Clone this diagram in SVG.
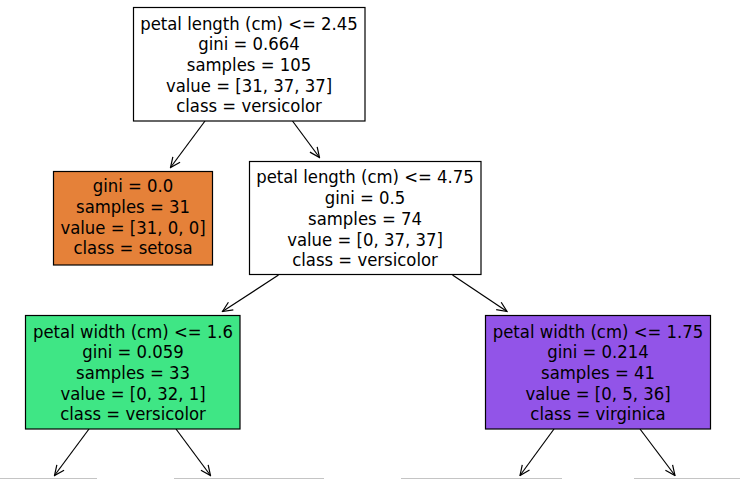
<svg xmlns="http://www.w3.org/2000/svg" width="740" height="479" viewBox="0 0 740 479">
<style>
  .box { stroke: #000; stroke-width: 1.2; }
  .t { font-family: "DejaVu Sans", sans-serif; font-size: 16.5px; fill: #000; text-anchor: middle; }
  .edge { stroke: #000; stroke-width: 1.2; fill: none; marker-end: url(#arr); }
  .cut { stroke: #c4c4c4; stroke-width: 1.2; }
</style>
<defs>
  <marker id="arr" markerUnits="userSpaceOnUse" viewBox="-11 -6 12 12" refX="0" refY="0" markerWidth="12" markerHeight="12" orient="auto">
    <path d="M-10,-4.5 L0,0 L-10,4.5" fill="none" stroke="#000" stroke-width="1.2"/>
  </marker>
</defs>
<rect width="740" height="479" fill="#fff"/>
<g id="connectors">
  <line class="edge" x1="205" y1="121" x2="170.5" y2="167.5"/>
  <line class="edge" x1="292.5" y1="121" x2="319.5" y2="157.5"/>
  <line class="edge" x1="278.5" y1="275" x2="222.5" y2="311.5"/>
  <line class="edge" x1="452.5" y1="275" x2="507" y2="311.5"/>
  <line class="edge" x1="89" y1="429" x2="54.5" y2="475.5"/>
  <line class="edge" x1="176" y1="429" x2="210.5" y2="475.5"/>
  <line class="edge" x1="554" y1="429" x2="520" y2="475.5"/>
  <line class="edge" x1="640" y1="429" x2="675" y2="475.5"/>
  <line class="cut" x1="0" y1="478.5" x2="97" y2="478.5"/>
  <line class="cut" x1="174" y1="478.5" x2="324" y2="478.5"/>
  <line class="cut" x1="401" y1="478.5" x2="562" y2="478.5"/>
  <line class="cut" x1="634" y1="478.5" x2="740" y2="478.5"/>
</g>
<g id="node0">
  <rect class="box" x="133.5" y="7.5" width="231.5" height="113.5" fill="#fff"/>
  <text class="t" transform="translate(249,29.5) scale(1,1.07)">petal length (cm) &lt;= 2.45</text>
  <text class="t" transform="translate(249,50.2) scale(1,1.07)">gini = 0.664</text>
  <text class="t" transform="translate(249,70.9) scale(1,1.07)">samples = 105</text>
  <text class="t" transform="translate(249,91.6) scale(1,1.07)">value = [31, 37, 37]</text>
  <text class="t" transform="translate(249,112.3) scale(1,1.07)">class = versicolor</text>
</g>
<g id="node1">
  <rect class="box" x="53.5" y="171.5" width="159" height="93.5" fill="#e58139"/>
  <text class="t" transform="translate(133,192.4) scale(1,1.07)">gini = 0.0</text>
  <text class="t" transform="translate(133,213.1) scale(1,1.07)">samples = 31</text>
  <text class="t" transform="translate(133,233.8) scale(1,1.07)">value = [31, 0, 0]</text>
  <text class="t" transform="translate(133,254.3) scale(1,1.07)">class = setosa</text>
</g>
<g id="node2">
  <rect class="box" x="249.5" y="161.5" width="231.5" height="113" fill="#fff"/>
  <text class="t" transform="translate(365,183.4) scale(1,1.07)">petal length (cm) &lt;= 4.75</text>
  <text class="t" transform="translate(365,204.1) scale(1,1.07)">gini = 0.5</text>
  <text class="t" transform="translate(365,224.8) scale(1,1.07)">samples = 74</text>
  <text class="t" transform="translate(365,245.5) scale(1,1.07)">value = [0, 37, 37]</text>
  <text class="t" transform="translate(365,266.2) scale(1,1.07)">class = versicolor</text>
</g>
<g id="node3">
  <rect class="box" x="25.5" y="315.5" width="214.5" height="113.5" fill="#3fe685"/>
  <text class="t" transform="translate(133,337.5) scale(1,1.07)">petal width (cm) &lt;= 1.6</text>
  <text class="t" transform="translate(133,358.2) scale(1,1.07)">gini = 0.059</text>
  <text class="t" transform="translate(133,378.9) scale(1,1.07)">samples = 33</text>
  <text class="t" transform="translate(133,399.6) scale(1,1.07)">value = [0, 32, 1]</text>
  <text class="t" transform="translate(133,420.3) scale(1,1.07)">class = versicolor</text>
</g>
<g id="node4">
  <rect class="box" x="485.5" y="315.5" width="225" height="113.5" fill="#9254e8"/>
  <text class="t" transform="translate(598,337.5) scale(1,1.07)">petal width (cm) &lt;= 1.75</text>
  <text class="t" transform="translate(598,358.2) scale(1,1.07)">gini = 0.214</text>
  <text class="t" transform="translate(598,378.9) scale(1,1.07)">samples = 41</text>
  <text class="t" transform="translate(598,399.6) scale(1,1.07)">value = [0, 5, 36]</text>
  <text class="t" transform="translate(598,420.3) scale(1,1.07)">class = virginica</text>
</g>
</svg>
